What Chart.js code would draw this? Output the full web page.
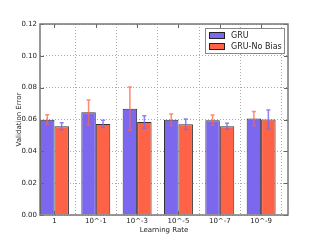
<!DOCTYPE html>
<html>
<head>
<meta charset="utf-8">
<script src="https://cdn.jsdelivr.net/npm/chart.js@4.4.1/dist/chart.umd.min.js"></script>
<style>
    html, body { margin: 0; padding: 0; background: #fff; }
    #wrap { width: 320px; height: 240px; }
</style>
</head>
<body>
<div id="wrap"><canvas id="chart_1" width="320" height="240"></canvas></div>
<script>
var rateLabels = ["1", "10^-1", "10^-3", "10^-5", "10^-7", "10^-9"];
var gruValues = [0.0599, 0.0645, 0.0668, 0.0598, 0.0596, 0.0607];
var gruErrors = [0.0031, 0.0078, 0.0136, 0.0036, 0.0032, 0.0044];
var noBiasValues = [0.0557, 0.0572, 0.0584, 0.0570, 0.0557, 0.0600];
var noBiasErrors = [0.0022, 0.0023, 0.0039, 0.0033, 0.0019, 0.0060];
var yTicks = [0, 0.02, 0.04, 0.06, 0.08, 0.10, 0.12];

var blue = "#7b68ee";
var red = "#ff6347";
var font = "'DejaVu Sans', sans-serif";

function toPoints(values) {
    let tem = [];
    for (var i = 0; i < values.length; i++) {
        tem.push({x: i, y: values[i]});
    }
    return tem;
}

// error bars, coloured with the other series' colour like the original
var errorBars = {
    id: "errorBars",
    afterDatasetsDraw: function (chart) {
        var ctx = chart.ctx;
        var yScale = chart.scales.y;
        chart.data.datasets.forEach(function (ds, i) {
            var meta = chart.getDatasetMeta(i);
            ctx.save();
            ctx.strokeStyle = ds.errColor;
            ctx.lineWidth = 1.5;
            meta.data.forEach(function (bar, j) {
                var v = ds.data[j].y;
                var top = yScale.getPixelForValue(v + ds.errors[j]);
                var bot = yScale.getPixelForValue(v - ds.errors[j]);
                ctx.beginPath();
                ctx.moveTo(bar.x, top);
                ctx.lineTo(bar.x, bot);
                ctx.moveTo(bar.x - 2, top);
                ctx.lineTo(bar.x + 2, top);
                ctx.moveTo(bar.x - 2, bot);
                ctx.lineTo(bar.x + 2, bot);
                ctx.stroke();
            });
            ctx.restore();
        });
    }
};

// frame, inner tick marks and the legend box in the top right
var frameLegend = {
    id: "frameLegend",
    afterDraw: function (chart) {
        var ctx = chart.ctx;
        var a = chart.chartArea;
        ctx.save();
        ctx.strokeStyle = "#666";
        ctx.lineWidth = 1;
        ctx.beginPath();
        chart.scales.y.ticks.forEach(function (t) {
            var py = Math.round(chart.scales.y.getPixelForValue(t.value)) + 0.5;
            ctx.moveTo(a.left, py); ctx.lineTo(a.left + 4, py);
            ctx.moveTo(a.right, py); ctx.lineTo(a.right - 4, py);
        });
        chart.scales.x.ticks.forEach(function (t) {
            var px = Math.round(chart.scales.x.getPixelForValue(t.value)) + 0.5;
            ctx.moveTo(px, a.bottom); ctx.lineTo(px, a.bottom - 4);
            ctx.moveTo(px, a.top); ctx.lineTo(px, a.top + 4);
        });
        ctx.stroke();
        ctx.strokeStyle = "#777";
        ctx.lineWidth = 1.5;
        ctx.strokeRect(a.left, a.top, a.right - a.left, a.bottom - a.top);

        // legend
        var bx = a.right - 83, by = a.top + 4, bw = 79, bh = 25;
        ctx.fillStyle = "#fff";
        ctx.fillRect(bx, by, bw, bh);
        ctx.strokeStyle = "#888";
        ctx.lineWidth = 1;
        ctx.strokeRect(bx + 0.5, by + 0.5, bw, bh);
        ctx.font = "8px " + font;
        ctx.textBaseline = "middle";
        chart.data.datasets.forEach(function (ds, i) {
            var ry = by + 4 + i * 11;
            ctx.fillStyle = ds.backgroundColor;
            ctx.fillRect(bx + 4, ry, 15, 6);
            ctx.strokeStyle = "#222";
            ctx.strokeRect(bx + 4.5, ry + 0.5, 15, 6);
            ctx.fillStyle = "#222";
            ctx.fillText(ds.label, bx + 26, ry + 3.5);
        });
        ctx.restore();
    }
};

var ctx1 = document.getElementById("chart_1").getContext("2d");
var chart1 = new Chart(ctx1, {
    type: "bar",
    data: {
        datasets: [
            {
                label: "GRU",
                data: toPoints(gruValues),
                errors: gruErrors,
                errColor: "rgba(255,99,71,0.75)",
                backgroundColor: blue,
                borderColor: "#333",
                borderWidth: 1,
                categoryPercentage: 0.7,
                barPercentage: 1.0,
            },
            {
                label: "GRU-No Bias",
                data: toPoints(noBiasValues),
                errors: noBiasErrors,
                errColor: "rgba(123,104,238,0.85)",
                backgroundColor: red,
                borderColor: "#333",
                borderWidth: 1,
                categoryPercentage: 0.7,
                barPercentage: 1.0,
            },
        ],
    },
    options: {
        responsive: false,
        animation: false,
        layout: {
            padding: {top: 24, right: 32, bottom: 0, left: 0},
        },
        plugins: {
            legend: {display: false},
            tooltip: {enabled: false},
        },
        scales: {
            x: {
                type: "linear",
                offset: false,
                min: -0.35,
                max: 5.65,
                afterBuildTicks: function (scale) {
                    scale.ticks = rateLabels.map(function (l, i) { return {value: i}; });
                },
                afterFit: function (scale) {
                    scale.height = 25;
                },
                grid: {
                    color: "#aaa",
                    lineWidth: 1,
                    drawTicks: false,
                },
                border: {display: false, dash: [1, 2]},
                ticks: {
                    autoSkip: false,
                    maxRotation: 0,
                    padding: 2,
                    color: "#222",
                    font: {family: font, size: 7},
                    callback: function (value, index) {
                        return rateLabels[index];
                    },
                },
                title: {
                    display: true,
                    text: "Learning Rate",
                    color: "#222",
                    font: {family: font, size: 7},
                    padding: {top: 0, bottom: 6},
                },
            },
            y: {
                min: 0,
                max: 0.12,
                afterBuildTicks: function (scale) {
                    scale.ticks = yTicks.map(function (v) { return {value: v}; });
                },
                afterFit: function (scale) {
                    scale.width = 40;
                },
                grid: {
                    color: "#aaa",
                    lineWidth: 1,
                    drawTicks: false,
                },
                border: {display: false, dash: [1, 2]},
                ticks: {
                    padding: 3,
                    color: "#222",
                    font: {family: font, size: 7},
                    callback: function (value) {
                        return value.toFixed(2);
                    },
                },
                title: {
                    display: true,
                    text: "Validation Error",
                    color: "#222",
                    font: {family: font, size: 7},
                    padding: {top: 15, bottom: 0},
                },
            },
        },
    },
    plugins: [errorBars, frameLegend],
});
</script>
</body>
</html>
